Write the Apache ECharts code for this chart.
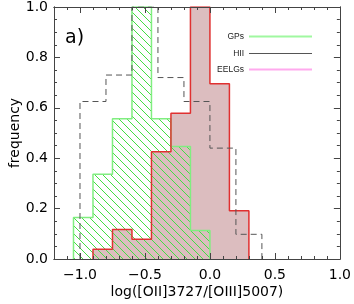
<!DOCTYPE html>
<html>
<head>
<meta charset="utf-8">
<script src="https://cdn.jsdelivr.net/npm/echarts@6/dist/echarts.min.js"></script>
<style>html,body{margin:0;padding:0;background:#fff}#c{width:354px;height:304px}</style>
</head>
<body>
<div id="c"></div>
<script>
// Histogram bin edges and frequencies
var gpEdges = [-1.05, -0.9, -0.75, -0.6, -0.45, -0.3, -0.15, 0.0];
var gpFreq = [0.165, 0.336, 0.557, 1.0, 0.557, 0.446, 0.113];
var eelgEdges = [-0.9, -0.75, -0.6, -0.45, -0.3, -0.15, 0.0, 0.15, 0.3];
var eelgFreq = [0.039, 0.117, 0.078, 0.426, 0.578, 1.0, 0.695, 0.191];
var hiiEdges = [-1.0, -0.8, -0.6, -0.4, -0.2, 0.0, 0.2, 0.4];
var hiiFreq = [0.625, 0.73, 1.0, 0.72, 0.625, 0.44, 0.098];
var xMajorTicks = [-1.0, -0.5, 0.0, 0.5, 1.0];
var yMajorTicks = [0.0, 0.2, 0.4, 0.6, 0.8, 1.0];
var legendNames = ['GPs', 'HII', 'EELGs'];

function stepData(edges, vals) {
  var pts = [[edges[0], 0]];
  for (var i = 0; i < vals.length; i++) pts.push([edges[i + 1], vals[i]]);
  pts.push([edges[edges.length - 1], 0]);
  return pts;
}

// hatch pattern
var hc = document.createElement('canvas');
hc.width = 8; hc.height = 8;
var g = hc.getContext('2d');
g.strokeStyle = '#44dd44';
g.lineWidth = 1;
g.beginPath();
g.moveTo(-2, -2); g.lineTo(10, 10);
g.moveTo(-10, -2); g.lineTo(2, 10);
g.moveTo(6, -2); g.lineTo(18, 10);
g.stroke();

var FONT = 'DejaVu Sans';
var axisCol = '#444';
var chart = echarts.init(document.getElementById('c'), null, {renderer: 'canvas'});

function xAx(pos, major, extra) {
  var a = {
    type: 'value', position: pos, min: -1.2, max: 1.0,
    axisLine: {show: true, onZero: false, lineStyle: {color: axisCol, width: 1}},
    splitLine: {show: false},
    axisTick: {show: true, inside: true, length: major ? 6 : 3, lineStyle: {color: axisCol}},
    axisLabel: {show: false},
    z: 5
  };
  if (major) { a.axisTick.customValues = xMajorTicks; }
  else { a.interval = 0.1; }
  return Object.assign(a, extra || {});
}
function yAx(pos, major, extra) {
  var a = {
    type: 'value', position: pos, min: 0, max: 1.0,
    axisLine: {show: true, onZero: false, lineStyle: {color: axisCol, width: 1}},
    splitLine: {show: false},
    axisTick: {show: true, inside: true, length: major ? 6 : 3, lineStyle: {color: axisCol}},
    axisLabel: {show: false},
    z: 5
  };
  if (major) { a.axisTick.customValues = yMajorTicks; }
  else { a.interval = 0.05; }
  return Object.assign(a, extra || {});
}
function leg(name, top, h) {
  return {
    orient: 'vertical', align: 'right', right: 37, top: top,
    itemWidth: 63, itemHeight: h, icon: 'rect',
    textStyle: {fontFamily: 'Liberation Sans', fontSize: 8.5, color: '#222'},
    data: [name]
  };
}

var option = {
  animation: false,
  grid: {left: 52, right: 11, top: 4, bottom: 44, containLabel: false},
  title: {text: 'a)', left: 60, top: 24, textStyle: {fontFamily: FONT, fontSize: 19, fontWeight: 'normal', color: '#000'}},
  legend: [leg(legendNames[0], 27, 2), leg(legendNames[1], 44, 1), leg(legendNames[2], 60, 2)],
  xAxis: [
    xAx('bottom', false, {name: 'log([OII]3727/[OIII]5007)', nameLocation: 'middle', nameGap: 26,
      nameTextStyle: {fontFamily: FONT, fontSize: 14, color: '#000'}}),
    xAx('bottom', true, {axisLabel: {show: true, customValues: xMajorTicks, margin: 9,
      fontFamily: FONT, fontSize: 14, color: '#000',
      formatter: function (v) { return (v < 0 ? '\u2212' : '') + Math.abs(v).toFixed(1); }}}),
    xAx('top', false),
    xAx('top', true)
  ],
  yAxis: [
    yAx('left', false, {name: 'frequency', nameLocation: 'middle', nameGap: 32,
      nameTextStyle: {fontFamily: FONT, fontSize: 14, color: '#000'}}),
    yAx('left', true, {axisLabel: {show: true, customValues: yMajorTicks, margin: 6,
      fontFamily: FONT, fontSize: 14, color: '#000',
      formatter: function (v) { return v.toFixed(1); }}}),
    yAx('right', false),
    yAx('right', true)
  ],
  series: [
    {type: 'line', name: 'eelgFill', step: 'start', data: stepData(eelgEdges, eelgFreq),
      showSymbol: false, lineStyle: {width: 0, opacity: 0}, areaStyle: {color: 'rgb(220,189,191)', opacity: 1}, z: 1, silent: true},
    {type: 'line', name: 'gpFill', step: 'start', data: stepData(gpEdges, gpFreq),
      showSymbol: false, lineStyle: {width: 0, opacity: 0}, areaStyle: {color: {image: hc, repeat: 'repeat'}, opacity: 1}, z: 2, silent: true},
    {type: 'line', name: 'gpLine', step: 'start', data: stepData(gpEdges, gpFreq),
      showSymbol: false, lineStyle: {width: 1.5, color: '#80ee80'}, z: 3, silent: true},
    {type: 'line', name: 'eelgLine', step: 'start', data: stepData(eelgEdges, eelgFreq),
      showSymbol: false, lineStyle: {width: 1.5, color: '#e03030'}, z: 3, silent: true},
    {type: 'line', name: 'hiiLine', step: 'start', data: stepData(hiiEdges, hiiFreq),
      showSymbol: false, lineStyle: {width: 1, color: '#555', type: [6, 4]}, z: 4, silent: true},
    {type: 'line', name: 'GPs', data: [], color: '#a0f8a0'},
    {type: 'line', name: 'HII', data: [], color: '#555555'},
    {type: 'line', name: 'EELGs', data: [], color: '#ffaaee'}
  ]
};
chart.setOption(option);
</script>
</body>
</html>
